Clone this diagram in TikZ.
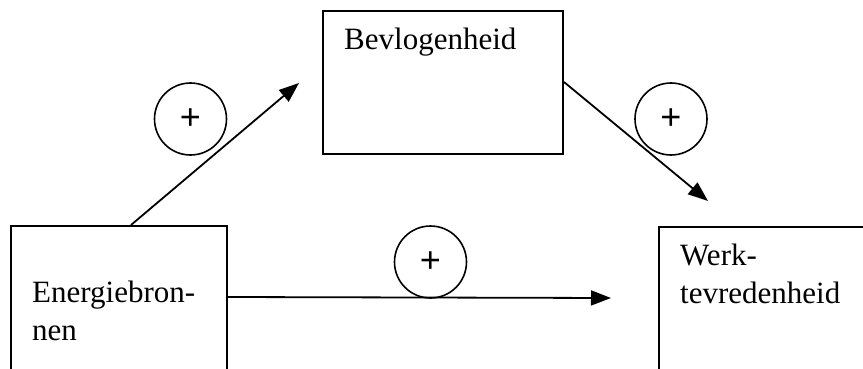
\documentclass[tikz,border=0pt]{standalone}
\usepackage{fontspec}
\setmainfont{Liberation Serif}
\newfontfamily\plusfont{Liberation Sans}
\usetikzlibrary{arrows.meta,calc}
\begin{document}
\begin{tikzpicture}[x=1pt,y=-1pt,
  box/.style={draw,line width=2pt,rectangle,inner sep=0pt},
  lbl/.style={anchor=base west,inner sep=0pt,font=\fontsize{31}{38}\selectfont},
  sign/.style={draw,circle,line width=1.6pt,minimum size=72pt,inner sep=0pt,
    font=\plusfont\fontsize{36}{36}\selectfont},
  link/.style={line width=1.8pt,-{Triangle[length=20pt,width=15pt]}}]
\useasboundingbox (0,0) rectangle (863,369);
\clip (0,0) rectangle (863,369);
% boxes
\node[box,minimum width=216pt,minimum height=174pt] (bron) at (119,313) {};
\node[box,minimum width=240pt,minimum height=143pt] (bevl) at (443,82.5) {};
\node[box,minimum width=241pt,minimum height=173pt] (tevr) at (779.5,313.5) {};
% box texts
\node[lbl] (tbron1) at (32,302) {Energiebron-};
\node[lbl] (tbron2) at (32,340) {nen};
\node[lbl] (tbevl) at (344,50) {Bevlogenheid};
\node[lbl] (ttevr1) at (680,265) {Werk-};
\node[lbl] (ttevr2) at (680,303) {tevredenheid};
% signs
\node[sign] (s1) at (190.5,119) {+};
\node[sign] (s2) at (671,119) {+};
\node[sign] (s3) at (430.5,262) {+};
% arrow ends
\coordinate (e1) at (299,83);
\coordinate (e2) at (708,201);
\coordinate (e3) at (611,298);
% connectors
\draw[link] ($(bron.north west)+(121,0)$) -- (e1);
\draw[link] ($(bevl.north east)+(0,72)$) -- (e2);
\draw[link] ($(bron.north east)+(0,72)$) -- (e3);
\end{tikzpicture}
\end{document}
